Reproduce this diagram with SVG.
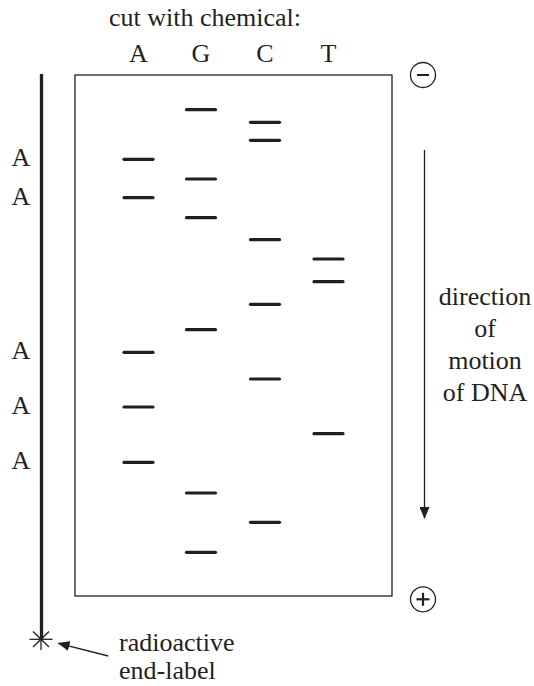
<svg xmlns="http://www.w3.org/2000/svg" width="534" height="686" viewBox="0 0 534 686" font-family="'Liberation Serif', 'Times New Roman', serif">
<style>
text{font-family:'Liberation Serif','Times New Roman',serif;font-size:26px;fill:#231f20}
.band{stroke:#231f20;stroke-width:3.2;stroke-linecap:round}
.thin{stroke:#231f20;stroke-width:1.3;fill:none}
</style>
<defs>
<marker id="ah" markerWidth="12" markerHeight="10" refX="11" refY="5" orient="auto" markerUnits="userSpaceOnUse">
<path d="M0,0 L12,5 L0,10 Z" fill="#231f20"/>
</marker>
</defs>
<rect width="534" height="686" fill="#fff"/>
<text x="205" y="26" text-anchor="middle">cut with chemical:</text>
<g id="headers">
<text x="138.5" y="62" text-anchor="middle">A</text>
<text x="201" y="62" text-anchor="middle">G</text>
<text x="265" y="62" text-anchor="middle">C</text>
<text x="328.5" y="62" text-anchor="middle">T</text>
</g>
<g id="gel">
<rect x="75" y="75" width="317" height="521" class="thin"/>
</g>
<g id="bands">
<line class="band" x1="124" y1="159.3" x2="153" y2="159.3"/>
<line class="band" x1="124" y1="197.7" x2="153" y2="197.7"/>
<line class="band" x1="124" y1="352.3" x2="153" y2="352.3"/>
<line class="band" x1="124" y1="407" x2="153" y2="407"/>
<line class="band" x1="124" y1="462.3" x2="153" y2="462.3"/>
<line class="band" x1="186.5" y1="109.7" x2="215.5" y2="109.7"/>
<line class="band" x1="186.5" y1="179" x2="215.5" y2="179"/>
<line class="band" x1="186.5" y1="217.7" x2="215.5" y2="217.7"/>
<line class="band" x1="186.5" y1="329.7" x2="215.5" y2="329.7"/>
<line class="band" x1="186.5" y1="493" x2="215.5" y2="493"/>
<line class="band" x1="186.5" y1="552.3" x2="215.5" y2="552.3"/>
<line class="band" x1="250.5" y1="122.3" x2="279.5" y2="122.3"/>
<line class="band" x1="250.5" y1="140.3" x2="279.5" y2="140.3"/>
<line class="band" x1="250.5" y1="239.7" x2="279.5" y2="239.7"/>
<line class="band" x1="250.5" y1="304.3" x2="279.5" y2="304.3"/>
<line class="band" x1="250.5" y1="379" x2="279.5" y2="379"/>
<line class="band" x1="250.5" y1="522.3" x2="279.5" y2="522.3"/>
<line class="band" x1="314" y1="259" x2="343" y2="259"/>
<line class="band" x1="314" y1="281.7" x2="343" y2="281.7"/>
<line class="band" x1="314" y1="433.7" x2="343" y2="433.7"/>
</g>
<g id="sequence">
<text x="21" y="166" text-anchor="middle">A</text>
<text x="21" y="205" text-anchor="middle">A</text>
<text x="21" y="359" text-anchor="middle">A</text>
<text x="21" y="414" text-anchor="middle">A</text>
<text x="21" y="469" text-anchor="middle">A</text>
</g>
<g id="dna">
<line x1="41.5" y1="74" x2="41.5" y2="639" stroke="#231f20" stroke-width="3.3"/>
<g class="thin" stroke-width="1.1">
<line x1="29.5" y1="639.3" x2="52.5" y2="639.3"/>
<line x1="41" y1="628.5" x2="41" y2="650"/>
<line x1="33" y1="631.5" x2="49" y2="647"/>
<line x1="33" y1="647" x2="49" y2="631.5"/>
</g>
</g>
<g id="minus">
<circle cx="423" cy="75" r="12.5" class="thin"/>
<line x1="417" y1="75" x2="429" y2="75" stroke="#231f20" stroke-width="2"/>
</g>
<g id="plus">
<circle cx="423" cy="599.3" r="12.5" class="thin"/>
<line x1="416.5" y1="599.3" x2="429.5" y2="599.3" stroke="#231f20" stroke-width="2.2"/>
<line x1="423" y1="592.8" x2="423" y2="605.8" stroke="#231f20" stroke-width="2.2"/>
</g>
<g id="connectors">
<line x1="424.5" y1="150" x2="424.5" y2="518" stroke="#231f20" stroke-width="1.3" marker-end="url(#ah)"/>
<line x1="108.3" y1="656" x2="58.5" y2="643.3" stroke="#231f20" stroke-width="1.3" marker-end="url(#ah)"/>
</g>
<g id="direction-label">
<text x="485" y="305" text-anchor="middle">direction</text>
<text x="485" y="337" text-anchor="middle">of</text>
<text x="485" y="369" text-anchor="middle">motion</text>
<text x="485" y="401" text-anchor="middle">of DNA</text>
</g>
<g id="end-label">
<text x="119" y="651">radioactive</text>
<text x="119" y="679">end-label</text>
</g>
</svg>
